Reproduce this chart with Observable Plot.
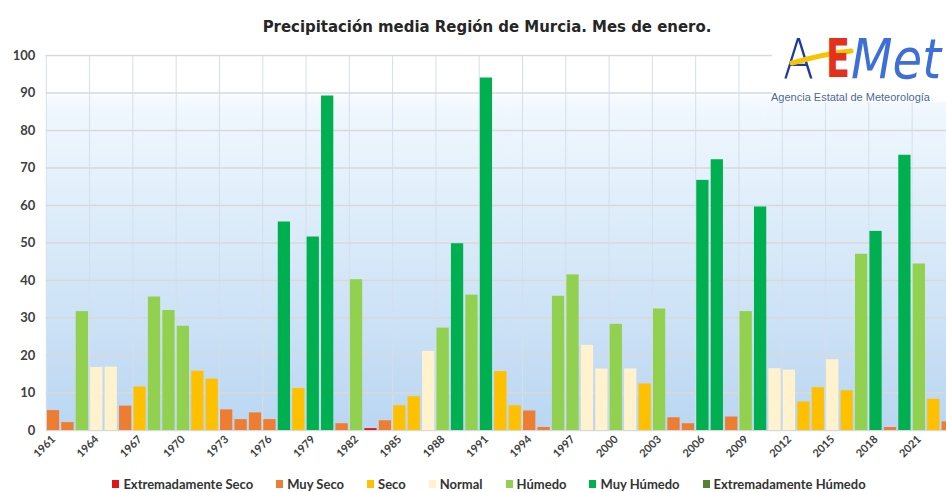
<!DOCTYPE html>
<html>
<head>
<meta charset="utf-8">
<script src="https://cdn.jsdelivr.net/npm/d3@7"></script>
<script src="https://cdn.jsdelivr.net/npm/@observablehq/plot@0.6"></script>
<style>
  html, body { margin: 0; padding: 0; background: #fff; }
  #wrap { position: relative; width: 946px; height: 492px; overflow: hidden; background: #fff; }
  #title { position: absolute; left: 0; width: 974px; top: 17px; text-align: center;
           font: bold 16.6px "DejaVu Sans Condensed", "DejaVu Sans", sans-serif; color: #262626; white-space: nowrap; }
  #chart { position: absolute; left: 0; top: 45px; width: 946px; height: 417px; overflow: hidden; }
  #legend { position: absolute; left: 0; width: 978px; top: 476px; display: flex; justify-content: center; gap: 23px;
            font: bold 13px Lato, sans-serif; color: #333; white-space: nowrap; }
  #legend .item { display: flex; align-items: center; gap: 4px; }
  #legend .sw { width: 7px; height: 8px; display: inline-block; }
  #logo { position: absolute; left: 772px; top: 14px; width: 174px; height: 88px; background: #fff; }
  #logo .l { position: absolute; white-space: nowrap; transform-origin: 0 0; line-height: normal; }
  #chart svg g[aria-label^="y-axis"] text { font: bold 13px Lato, sans-serif; fill: #404040; }
  #chart svg g[aria-label^="x-axis"] text { font: bold 11px Lato, sans-serif; fill: #404040; }
</style>
</head>
<body>
<div id="wrap">
  <div id="chart"></div>
  <div id="title">Precipitación media Región de Murcia. Mes de enero.</div>
  <div id="logo">
    <div class="l" style="left:11px; top:11.5px; font:200 56px 'DejaVu Sans'; color:#1d3a9e; transform:scaleX(0.81)">A</div>
    <svg width="174" height="88" style="position:absolute;left:0;top:0">
      <path d="M20,49 C38,44 58,39 79,37" stroke="#f6c400" stroke-width="5" fill="none" stroke-linecap="round"></path>
    </svg>
    <div class="l" style="left:54px; top:13.4px; font:bold 54px 'DejaVu Sans'; color:#e2321c; transform:scaleX(0.65)">E</div>
    <div class="l" style="left:79px; top:11.5px; font:oblique 56px 'DejaVu Sans'; color:#3d6fd6; transform:scaleX(0.86)">Met</div>
    <div class="l" style="left:-1px; top:76.8px; font:11px 'Liberation Sans', Arial, sans-serif; color:#4a68a0">Agencia Estatal de Meteorología</div>
  </div>
  <div id="legend"></div>
</div>
<script>
// ---- data ----
const years = [1961,1962,1963,1964,1965,1966,1967,1968,1969,1970,
  1971,1972,1973,1974,1975,1976,1977,1978,1979,1980,
  1981,1982,1983,1984,1985,1986,1987,1988,1989,1990,
  1991,1992,1993,1994,1995,1996,1997,1998,1999,2000,
  2001,2002,2003,2004,2005,2006,2007,2008,2009,2010,
  2011,2012,2013,2014,2015,2016,2017,2018,2019,2020,
  2021,2022,2023];
const values = [5.3,2.1,31.7,16.8,16.9,6.5,11.6,35.6,32.0,27.8,
  15.8,13.7,5.5,2.9,4.7,2.9,55.6,11.2,51.6,89.2,
  1.8,40.2,0.5,2.6,6.6,9.0,21.1,27.3,49.8,36.1,
  94.0,15.7,6.6,5.2,0.8,35.8,41.5,22.7,16.4,28.3,
  16.4,12.4,32.4,3.4,1.8,66.7,72.2,3.6,31.7,59.6,
  16.5,16.1,7.6,11.4,18.9,10.6,47.0,53.1,0.8,73.4,
  44.4,8.3,2.3];
const categories = ["Extremadamente Seco","Muy Seco","Seco","Normal","Húmedo","Muy Húmedo","Extremadamente Húmedo"];
const categoryColors = ["#e2141b","#ed7d31","#ffc000","#fff2cc","#92d050","#00b050","#548235"];
const classes = ["Muy Seco","Muy Seco","Húmedo","Normal","Normal","Muy Seco","Seco","Húmedo","Húmedo","Húmedo",
  "Seco","Seco","Muy Seco","Muy Seco","Muy Seco","Muy Seco","Muy Húmedo","Seco","Muy Húmedo","Muy Húmedo",
  "Muy Seco","Húmedo","Extremadamente Seco","Muy Seco","Seco","Seco","Normal","Húmedo","Muy Húmedo","Húmedo",
  "Muy Húmedo","Seco","Seco","Muy Seco","Muy Seco","Húmedo","Húmedo","Normal","Normal","Húmedo",
  "Normal","Seco","Húmedo","Muy Seco","Muy Seco","Muy Húmedo","Muy Húmedo","Muy Seco","Húmedo","Muy Húmedo",
  "Normal","Normal","Seco","Seco","Normal","Seco","Húmedo","Muy Húmedo","Muy Seco","Muy Húmedo",
  "Húmedo","Seco","Muy Seco"];
const tickYears = [1961,1964,1967,1970,1973,1976,1979,1982,1985,1988,1991,1994,1997,2000,2003,2006,2009,2012,2015,2018,2021];
const yTicks = [0,10,20,30,40,50,60,70,80,90,100];

const data = years.map((y, i) => ({year: y, value: values[i], cls: classes[i]}));

// ---- layout ----
const xRange = [44.7, 956];
const pad = 0.15;
const step = (xRange[1] - xRange[0]) / (years.length + pad);

const chart = Plot.plot({
  width: 946,
  height: 417,
  marginTop: 10,
  marginBottom: 32,
  marginLeft: 45.8,
  marginRight: 0,
  style: {background: "transparent", overflow: "hidden"},
  x: {type: "band", domain: years, range: xRange, padding: pad, round: false,
      tickSize: 0, tickPadding: 7, tickRotate: -45, label: null,
      tickFormat: d => tickYears.includes(d) ? String(d) : ""},
  y: {domain: [0, 100], ticks: yTicks, tickSize: 0, tickPadding: 11, label: null},
  color: {domain: categories, range: categoryColors},
  marks: [
    Plot.frame({fill: "url(#bgGrad)", stroke: "none"}),
    Plot.ruleX(tickYears, {x: d => d, dx: -step / 2, stroke: "#d3dfeb", strokeWidth: 1}),
    Plot.ruleY(yTicks, {y: d => d, stroke: "#d9d9d9", strokeWidth: 1.3}),
    Plot.barY(data, {x: "year", y: "value", fill: "cls"})
  ]
});

document.getElementById("chart").appendChild(chart);
const svgEl = chart.tagName.toLowerCase() === "svg" ? chart : chart.querySelector("svg");
d3.select(svgEl).insert("defs", ":first-child").html(
  '<linearGradient id="bgGrad" x1="0" y1="0" x2="0" y2="1">' +
  '<stop offset="0" stop-color="#ffffff"/>' +
  '<stop offset="0.09" stop-color="#ffffff"/>' +
  '<stop offset="0.13" stop-color="#f1f8fe"/>' +
  '<stop offset="1" stop-color="#b9d6f2"/>' +
  '</linearGradient>');

// ---- legend ----
const legend = d3.select("#legend");
categories.forEach((c, i) => {
  const it = legend.append("div").attr("class", "item");
  it.append("span").attr("class", "sw").style("background", categoryColors[i]);
  it.append("span").text(c);
});
</script>
</body>
</html>
